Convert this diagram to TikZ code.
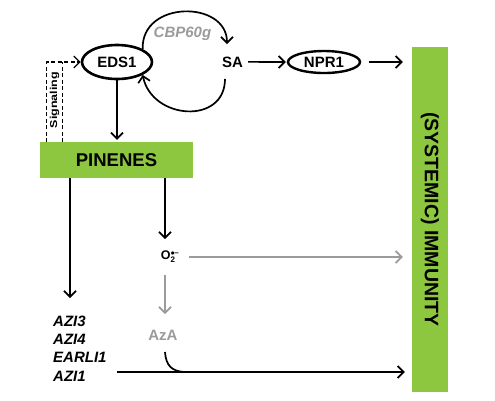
\documentclass[tikz,border=0pt]{standalone}
\usepackage{fontspec}
\setmainfont{Liberation Sans}
\usetikzlibrary{shapes.geometric,arrows.meta}
\definecolor{lgreen}{RGB}{141,198,63}
\definecolor{lgray}{RGB}{155,155,155}
\begin{document}
\begin{tikzpicture}[x=1pt,y=-1pt,
 lab/.style={font=\fontsize{15}{17}\selectfont\bfseries, inner sep=0pt},
 oval/.style={ellipse, draw, line width=2.6pt, inner sep=0pt},
 arr/.style={line width=1.7pt, -{Straight Barb[length=6pt,width=12pt,line width=1.7pt]}},
 garr/.style={arr, draw=lgray},
 dash line/.style={line width=1.3pt, dash pattern=on 4pt off 2.5pt},
 gbox/.style={fill=lgreen, inner sep=0pt}]
\fill[white] (0,0) rectangle (495,400);
\useasboundingbox (0,0) rectangle (495,400);

% nodes
\node[oval, lab, minimum width=70pt, minimum height=34pt] (eds) at (117,62) {EDS1};
\node[lab, anchor=base] (sa) at (232.5,67) {SA};
\node[oval, lab, minimum width=72pt, minimum height=22pt, line width=2.4pt] (npr) at (324,62) {NPR1};
\node[lab, anchor=base, text=lgray, font=\fontsize{15}{17}\selectfont\bfseries\itshape] (cbp) at (182.5,37) {CBP60g};
\node[gbox, minimum width=153pt, minimum height=36pt, font=\fontsize{18.5}{20}\selectfont\bfseries] (pin) at (116.5,160) {PINENES};
\node[gbox, rotate=-90, minimum width=345pt, minimum height=36pt, font=\fontsize{19.5}{21}\selectfont\bfseries] (imm) at (430,219.5) {(SYSTEMIC) IMMUNITY};
\node[rotate=90, inner sep=0pt, font=\fontsize{10}{11}\selectfont\bfseries] (sig) at (54.5,100) {\scalebox{1.25}[1]{Signaling}};
\node[inner sep=0pt, font=\fontsize{12.5}{14}\selectfont\bfseries] (o2) at (170,257) {O$^{\mbox{\fontsize{8}{8}\selectfont\bfseries $\bullet$\kern-0.5pt--}}_{\mbox{\fontsize{8}{8}\selectfont\bfseries 2}}$};
\node[lab, anchor=base, text=lgray] (aza) at (163,340) {AzA};
\node[lab, anchor=base west, font=\fontsize{15}{17}\selectfont\bfseries\itshape] (g1) at (53,326) {AZI3};
\node[lab, anchor=base west, font=\fontsize{15}{17}\selectfont\bfseries\itshape] (g2) at (53,344) {AZI4};
\node[lab, anchor=base west, font=\fontsize{15}{17}\selectfont\bfseries\itshape] (g3) at (53,362) {EARLI1};
\node[lab, anchor=base west, font=\fontsize{15}{17}\selectfont\bfseries\itshape] (g4) at (53,381) {AZI1};

% named free ends
\coordinate (saTop) at (227,44);
\coordinate (saBot) at (225,79);
\coordinate (s1) at (46.5,142);
\coordinate (s2) at (62.5,142);
\coordinate (s1t) at (46.5,62);
\coordinate (s2t) at (62.5,62);
\coordinate (gtop) at (70,298);
\coordinate (o2in) at (165,239);
\coordinate (o2out) at (165,275);
\coordinate (azin) at (165,314);
\coordinate (gstart) at (117,372);
\coordinate (hook1) at (165,352);
\coordinate (hook2) at (184,372);

% connectors
\draw[arr] (eds.north east) .. controls (141,0) and (227,0) .. (saTop);
\draw[arr] (saBot) .. controls (225,125) and (152,120) .. (eds.south east);
\draw[arr, shorten <=5pt, shorten >=1pt] (sa.east) -- (npr.west);
\draw[arr, shorten <=8pt, shorten >=9pt] (npr.east) -- (npr.east -| imm.south);
\draw[arr, shorten >=2pt] (eds.south) -- (eds.south |- pin.north);
\draw[dash line, -{Straight Barb[length=6pt,width=12pt,line width=1.3pt]}] (s1) -- (s1t) -- (eds.west);
\draw[dash line] (s2) -- (s2t);
\draw[arr] (pin.south -| gtop) -- (gtop);
\draw[arr] (pin.south -| o2in) -- (o2in);
\draw[garr, shorten <=10pt, shorten >=9pt] (o2.east) -- (o2.east -| imm.south);
\draw[garr] (o2out) -- (azin);
\draw[arr, shorten >=7pt] (gstart) -- (gstart -| imm.south);
\draw[line width=1.7pt] (hook1) .. controls (166,366) and (172,371) .. (hook2);
\end{tikzpicture}
\end{document}
